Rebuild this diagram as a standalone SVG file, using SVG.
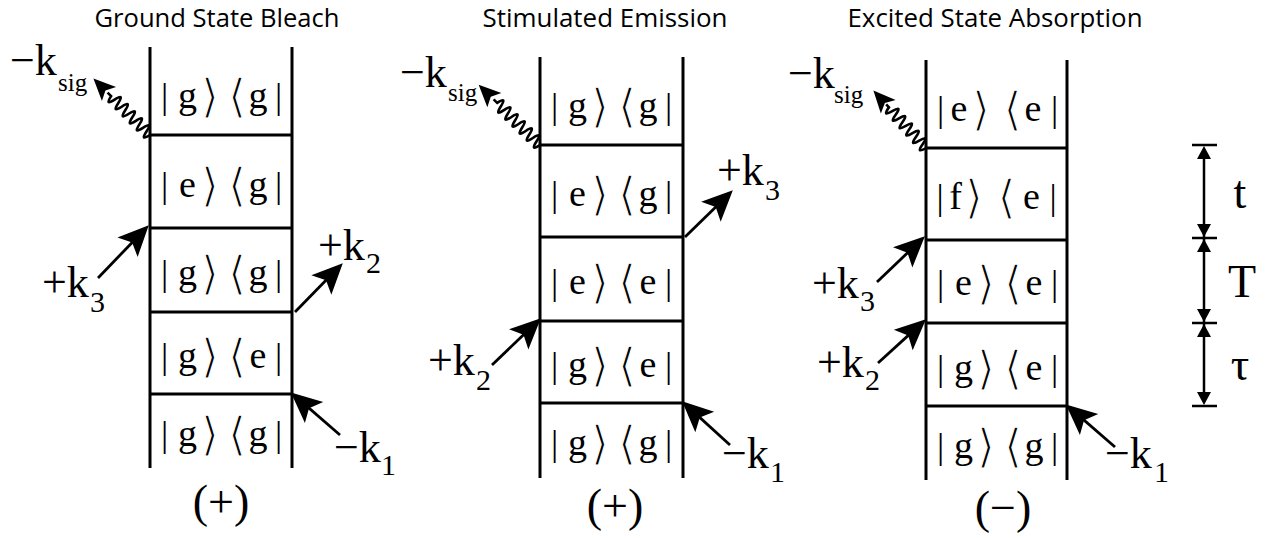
<svg xmlns="http://www.w3.org/2000/svg" width="1265" height="538" viewBox="0 0 1265 538">
<style>
.bg{fill:#fff}
.lad{stroke:#000;stroke-width:3;fill:none}
.cell{font-family:"Liberation Serif","DejaVu Serif",serif;font-size:38px;fill:#000;text-anchor:middle}
.br{font-family:"DejaVu Sans","Liberation Serif",sans-serif;font-size:46px;text-anchor:middle;fill:#000;stroke:#fff;stroke-width:1.3px}
.bar{font-size:36px}
.lbl{font-family:"Liberation Serif","DejaVu Serif",serif;font-size:44px;fill:#000}
.sub{font-size:30px}
.sig{font-size:25px}
.ttl{font-family:"Open Sans","Liberation Sans",sans-serif;font-size:26px;fill:#000;text-anchor:middle}
.sign{font-family:"Liberation Serif","DejaVu Serif",serif;font-size:46px;fill:#000;text-anchor:middle}
.arr{stroke:#000;stroke-width:2.8;fill:none}
.wave{stroke:#000;stroke-width:2.6;fill:none}
.head{fill:#000}
</style>
<defs>
<marker id="ah" markerUnits="userSpaceOnUse" markerWidth="40" markerHeight="40" refX="0" refY="0" viewBox="-15 -15 30 30" orient="auto">
<path d="M12,0 L-11,-10.5 L-6,0 L-11,10.5 Z" fill="#000"/>
</marker>
<path id="tri" d="M0,0 L-7,13 L7,13 Z"/>
</defs>
<rect class="bg" x="0" y="0" width="1265" height="538"/>

<g id="titles">
<text class="ttl" x="217" y="27" textLength="245" lengthAdjust="spacingAndGlyphs">Ground State Bleach</text>
<text class="ttl" x="605" y="27" textLength="245" lengthAdjust="spacingAndGlyphs">Stimulated Emission</text>
<text class="ttl" x="995" y="27" textLength="295" lengthAdjust="spacingAndGlyphs">Excited State Absorption</text>
</g>

<g id="gsb">
<path class="lad" d="M150,47 V468 M292,47 V468 M150,135 H292 M150,228 H292 M150,312 H292 M150,394 H292"/>
<g id="gsb-r1"><text class="cell" y="108"><tspan class="bar" x="164.5">|</tspan><tspan x="187.5">g</tspan><tspan x="258">g</tspan><tspan class="bar" x="278.5">|</tspan></text><text class="br" x="210 237" y="112">⟩⟨</text></g>
<g id="gsb-r2"><text class="cell" y="197"><tspan class="bar" x="164.5">|</tspan><tspan x="187.5">e</tspan><tspan x="258">g</tspan><tspan class="bar" x="278.5">|</tspan></text><text class="br" x="210 237" y="201">⟩⟨</text></g>
<g id="gsb-r3"><text class="cell" y="285"><tspan class="bar" x="164.5">|</tspan><tspan x="187.5">g</tspan><tspan x="258">g</tspan><tspan class="bar" x="278.5">|</tspan></text><text class="br" x="210 237" y="289">⟩⟨</text></g>
<g id="gsb-r4"><text class="cell" y="368"><tspan class="bar" x="164.5">|</tspan><tspan x="187.5">g</tspan><tspan x="258">e</tspan><tspan class="bar" x="278.5">|</tspan></text><text class="br" x="210 237" y="372">⟩⟨</text></g>
<g id="gsb-r5"><text class="cell" y="446"><tspan class="bar" x="164.5">|</tspan><tspan x="187.5">g</tspan><tspan x="258">g</tspan><tspan class="bar" x="278.5">|</tspan></text><text class="br" x="210 237" y="450">⟩⟨</text></g>
<text class="sign" x="221" y="517">(+)</text>
</g>

<g id="se">
<path class="lad" d="M540,57 V478 M683,57 V478 M540,145 H683 M540,237 H683 M540,321 H683 M540,403 H683"/>
<g id="se-r1"><text class="cell" y="118"><tspan class="bar" x="554.5">|</tspan><tspan x="577.5">g</tspan><tspan x="648">g</tspan><tspan class="bar" x="668.5">|</tspan></text><text class="br" x="600 627" y="122">⟩⟨</text></g>
<g id="se-r2"><text class="cell" y="206"><tspan class="bar" x="554.5">|</tspan><tspan x="577.5">e</tspan><tspan x="648">g</tspan><tspan class="bar" x="668.5">|</tspan></text><text class="br" x="600 627" y="210">⟩⟨</text></g>
<g id="se-r3"><text class="cell" y="294"><tspan class="bar" x="554.5">|</tspan><tspan x="577.5">e</tspan><tspan x="648">e</tspan><tspan class="bar" x="668.5">|</tspan></text><text class="br" x="600 627" y="298">⟩⟨</text></g>
<g id="se-r4"><text class="cell" y="377"><tspan class="bar" x="554.5">|</tspan><tspan x="577.5">g</tspan><tspan x="648">e</tspan><tspan class="bar" x="668.5">|</tspan></text><text class="br" x="600 627" y="381">⟩⟨</text></g>
<g id="se-r5"><text class="cell" y="455"><tspan class="bar" x="554.5">|</tspan><tspan x="577.5">g</tspan><tspan x="648">g</tspan><tspan class="bar" x="668.5">|</tspan></text><text class="br" x="600 627" y="459">⟩⟨</text></g>
<text class="sign" x="615" y="521">(+)</text>
</g>

<g id="esa">
<path class="lad" d="M926,60 V480 M1067,60 V480 M926,148 H1067 M926,240 H1067 M926,323 H1067 M926,406 H1067"/>
<g id="esa-r1"><text class="cell" y="121"><tspan class="bar" x="940.5">|</tspan><tspan x="959">e</tspan><tspan x="1033">e</tspan><tspan class="bar" x="1054.5">|</tspan></text><text class="br" x="981 1012.5" y="125">⟩⟨</text></g>
<g id="esa-r2"><text class="cell" y="209"><tspan class="bar" x="940">|</tspan><tspan x="955.5">f</tspan><tspan x="1031.5">e</tspan><tspan class="bar" x="1053">|</tspan></text><text class="br" x="974 1006.5" y="213">⟩⟨</text></g>
<g id="esa-r3"><text class="cell" y="295"><tspan class="bar" x="940.5">|</tspan><tspan x="963.5">e</tspan><tspan x="1034">e</tspan><tspan class="bar" x="1054.5">|</tspan></text><text class="br" x="986 1013" y="299">⟩⟨</text></g>
<g id="esa-r4"><text class="cell" y="379.5"><tspan class="bar" x="940.5">|</tspan><tspan x="963.5">g</tspan><tspan x="1034">e</tspan><tspan class="bar" x="1054.5">|</tspan></text><text class="br" x="986 1013" y="383.5">⟩⟨</text></g>
<g id="esa-r5"><text class="cell" y="458"><tspan class="bar" x="940.5">|</tspan><tspan x="963.5">g</tspan><tspan x="1034">g</tspan><tspan class="bar" x="1054.5">|</tspan></text><text class="br" x="986 1013" y="462">⟩⟨</text></g>
<text class="sign" x="1003" y="523">(−)</text>
</g>

<g id="connectors">
<line class="arr" x1="98" y1="278" x2="137.7" y2="236.7" marker-end="url(#ah)"/>
<line class="arr" x1="295" y1="312" x2="331.6" y2="274.6" marker-end="url(#ah)"/>
<line class="arr" x1="340" y1="435" x2="303" y2="402.9" marker-end="url(#ah)"/>
<line class="arr" x1="685" y1="237" x2="721.4" y2="201.4" marker-end="url(#ah)"/>
<line class="arr" x1="492" y1="365" x2="529.3" y2="329.3" marker-end="url(#ah)"/>
<line class="arr" x1="730" y1="445" x2="693.9" y2="412.1" marker-end="url(#ah)"/>
<line class="arr" x1="877" y1="282" x2="913.3" y2="247.3" marker-end="url(#ah)"/>
<line class="arr" x1="878" y1="363" x2="914.1" y2="330.1" marker-end="url(#ah)"/>
<line class="arr" x1="1115" y1="447" x2="1078" y2="414.9" marker-end="url(#ah)"/>
<g transform="translate(150,135) rotate(-135)">
<path class="wave" d="M0,0 q2.5,-12 5,0 t5,0 t5,0 t5,0 t5,0 t5,0 t5,0 t5,0 t5,0 t5,0 t5,0 l5,0"/>
<path class="head" d="M80,0 L58,-10 L63,0 L58,10 Z"/>
</g>
<g transform="translate(540,145) rotate(-135.5)">
<path class="wave" d="M0,0 q2.5,-12 5,0 t5,0 t5,0 t5,0 t5,0 t5,0 t5,0 t5,0 t5,0 t5,0 t5,0 t5,0 l5,0"/>
<path class="head" d="M86,0 L64,-10 L69,0 L64,10 Z"/>
</g>
<g transform="translate(926,148) rotate(-132.4)">
<path class="wave" d="M0,0 q2.5,-12 5,0 t5,0 t5,0 t5,0 t5,0 t5,0 t5,0 t5,0 t5,0 t5,0 t5,0 l4,0"/>
<path class="head" d="M78,0 L56,-10 L61,0 L56,10 Z"/>
</g>
</g>

<g id="labels">
<text class="lbl" x="10" y="75">−k<tspan class="sig" x="58" y="91">sig</tspan></text>
<text class="lbl" x="42" y="297">+k<tspan class="sub" x="90" y="312">3</tspan></text>
<text class="lbl" x="318" y="260">+k<tspan class="sub" x="366" y="273">2</tspan></text>
<text class="lbl" x="334" y="462">−k<tspan class="sub" x="381" y="475">1</tspan></text>

<text class="lbl" x="400" y="87">−k<tspan class="sig" x="448" y="101">sig</tspan></text>
<text class="lbl" x="717" y="185">+k<tspan class="sub" x="765" y="200">3</tspan></text>
<text class="lbl" x="428" y="375">+k<tspan class="sub" x="476" y="390">2</tspan></text>
<text class="lbl" x="722" y="468">−k<tspan class="sub" x="770" y="482">1</tspan></text>

<text class="lbl" x="788" y="88">−k<tspan class="sig" x="834" y="103">sig</tspan></text>
<text class="lbl" x="812" y="298">+k<tspan class="sub" x="860" y="311">3</tspan></text>
<text class="lbl" x="817" y="377">+k<tspan class="sub" x="865" y="390">2</tspan></text>
<text class="lbl" x="1105" y="468">−k<tspan class="sub" x="1154" y="482">1</tspan></text>
</g>

<g id="timeaxis">
<path class="lad" style="stroke-width:2.5" d="M1204,150 V401 M1192,145 H1217 M1192,238 H1217 M1192,323 H1217 M1192,406 H1217"/>
<use href="#tri" transform="translate(1204,146)"/>
<use href="#tri" transform="translate(1204,237) rotate(180)"/>
<use href="#tri" transform="translate(1204,239)"/>
<use href="#tri" transform="translate(1204,322) rotate(180)"/>
<use href="#tri" transform="translate(1204,324)"/>
<use href="#tri" transform="translate(1204,405) rotate(180)"/>
<text class="sign" x="1240" y="208">t</text>
<text class="sign" x="1242" y="297">T</text>
<text class="sign" x="1240" y="380">τ</text>
</g>
</svg>
